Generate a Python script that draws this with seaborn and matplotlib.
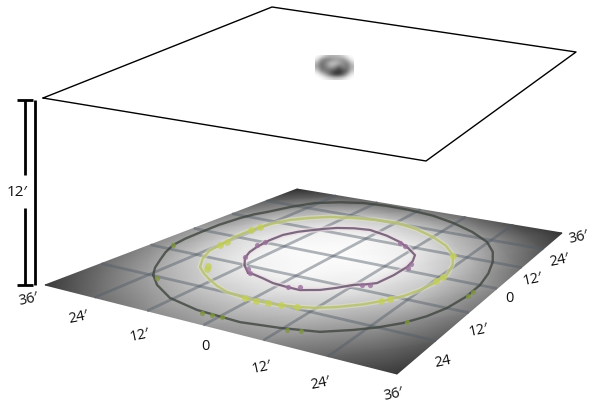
import numpy as np
import pandas as pd
import matplotlib
matplotlib.use("Agg")
import matplotlib.pyplot as plt
import seaborn as sns

# Floor plan in feet
FEET = [-36, -24, -12, 0, 12, 24, 36]
GRID_FEET = [-24, -12, 0, 12, 24]
# Illuminance of the floor on the 12-foot lattice (row = y from -36 to 36, col = x from -36 to 36)
FLOOR_LEVEL = [
    [0.22, 0.42, 0.55, 0.60, 0.56, 0.40, 0.22],
    [0.42, 0.64, 0.78, 0.82, 0.76, 0.60, 0.36],
    [0.54, 0.80, 0.94, 0.97, 0.92, 0.76, 0.48],
    [0.60, 0.85, 0.98, 0.99, 0.97, 0.80, 0.52],
    [0.52, 0.80, 0.94, 0.97, 0.92, 0.74, 0.44],
    [0.38, 0.62, 0.78, 0.80, 0.74, 0.58, 0.34],
    [0.18, 0.34, 0.44, 0.48, 0.42, 0.30, 0.20],
]
OUTER_X = [-23.2, -25.7, -27.9, -30.2, -32.0, -32.7, -32.9, -33.0, -32.3, -31.4, -30.0, -27.8, -24.8, -20.0, -14.8, -8.7, -2.6, 4.8, 11.5, 18.0, 23.7, 27.3, 29.7, 31.5, 32.5, 32.6, 31.8, 30.3, 28.1, 25.3, 22.3, 18.0, 11.5, 4.4, -5.1, -12.7, -19.0, -23.2]
OUTER_Y = [-23.8, -20.9, -17.5, -13.8, -10.0, -6.0, -1.7, 4.5, 10.4, 14.0, 16.9, 22.8, 28.1, 31.6, 33.8, 34.6, 34.4, 33.2, 30.6, 27.0, 22.5, 17.5, 12.1, 6.0, 0.1, -6.0, -12.0, -16.6, -20.7, -24.0, -26.6, -29.6, -31.3, -32.5, -32.0, -30.3, -27.0, -23.8]
MID_X = [-18.6, -21.5, -23.3, -23.8, -24.7, -24.5, -23.4, -21.8, -18.8, -15.3, -10.3, -5.0, 0.3, 6.3, 12.0, 17.0, 20.9, 23.3, 24.8, 24.6, 23.8, 22.6, 20.9, 18.2, 14.9, 12.0, 9.3, 5.3, 1.3, -2.3, -5.9, -9.3, -12.4, -15.6, -18.6]
MID_Y = [-16.8, -12.9, -9.2, -5.5, 0.5, 6.6, 11.0, 14.6, 18.0, 20.8, 22.7, 24.0, 24.4, 22.7, 19.8, 16.2, 11.9, 7.0, 1.6, -3.0, -7.2, -10.8, -13.8, -17.3, -20.3, -22.2, -23.2, -24.2, -24.5, -24.3, -23.8, -22.5, -20.9, -19.0, -16.8]
INNER_X = [-8.7, -11.9, -14.5, -15.9, -16.6, -17.0, -16.7, -15.2, -13.1, -11.4, -9.4, -6.0, -2.3, 2.8, 7.4, 11.0, 14.1, 15.4, 16.0, 15.9, 15.2, 13.7, 11.8, 9.9, 7.9, 4.8, 1.6, -1.5, -4.6, -7.6, -8.7]
INNER_Y = [-15.0, -12.2, -9.0, -6.0, -2.9, 1.4, 5.6, 8.8, 11.3, 13.2, 15.0, 16.6, 17.3, 15.8, 13.6, 11.0, 8.2, 5.0, 1.7, -3.2, -8.0, -9.5, -10.8, -13.4, -15.5, -17.2, -17.1, -16.8, -15.8, -15.0, -15.0]
GREEN_MID_X = [-23.8, -23.9, -16.7, -17.6, -24.3, -24.6, 8.9, 6.0, 3.5, 1.0, -1.5, 21.1, 24.6, 24.4, 21.1, 20.2]
GREEN_MID_Y = [-5.5, -3.5, -17.0, -15.8, 7.5, 5.0, -23.4, -24.0, -24.3, -24.5, -24.4, 11.4, 0.4, -2.0, -13.2, -14.6]
GREEN_OUTER_X = [-3.5, -1.5, 0.5, 12.9, 15.0, 28.5, 32.8, 32.7, -21.5, -32.0]
GREEN_OUTER_Y = [-32.6, -32.5, -32.4, -31.4, -30.6, -20.0, -3.5, -5.5, -24.6, -10.0]
PINK_X = [-17.3, -17.0, -8.4, -10.0, 3.9, 2.0, 7.8, 9.6, 16.4, 15.8, 14.6, 13.2, -14.7]
PINK_Y = [-2.0, 0.0, -14.8, -13.4, -16.0, -17.0, 13.1, 12.0, 1.3, 3.6, -9.4, -10.0, -8.8]
# Light source seen on the ceiling plane
SOURCE_LEVEL = [
    [1.00, 0.95, 0.80, 0.72, 0.72, 0.75, 0.85, 0.97, 1.00],
    [0.92, 0.55, 0.45, 0.50, 0.60, 0.60, 0.55, 0.75, 0.97],
    [0.70, 0.40, 0.55, 0.75, 0.80, 0.70, 0.55, 0.45, 0.80],
    [0.65, 0.40, 0.50, 0.65, 0.60, 0.35, 0.55, 0.45, 0.70],
    [0.85, 0.50, 0.45, 0.40, 0.30, 0.20, 0.30, 0.40, 0.80],
    [1.00, 0.85, 0.65, 0.40, 0.20, 0.20, 0.35, 0.70, 0.95],
    [1.00, 1.00, 0.95, 0.90, 0.85, 0.85, 0.90, 0.98, 1.00],
]
LOWER_TICKS = ["36\u2032", "24\u2032", "12\u2032", "0", "12\u2032", "24\u2032", "36\u2032"]
RIGHT_TICKS = ["24", "12\u2032", "0", "12\u2032", "24\u2032", "36\u2032"]
HEIGHT_LABEL = "12\u2032"

sns.set_theme(style="white")
plt.rcParams["font.family"] = ["Open Sans", "DejaVu Sans"]

W, H = 589, 404
fig = plt.figure(figsize=(W / 100, H / 100), dpi=100)
ax = fig.add_axes([0, 0, 1, 1])
ax.set_xlim(0, W)
ax.set_ylim(H, 0)
ax.axis("off")


def homography(dst):
    src = [(-36, -36), (36, -36), (36, 36), (-36, 36)]
    A, b = [], []
    for (x, y), (u, v) in zip(src, dst):
        A.append([x, y, 1, 0, 0, 0, -u * x, -u * y]); b.append(u)
        A.append([0, 0, 0, x, y, 1, -v * x, -v * y]); b.append(v)
    return np.append(np.linalg.solve(np.array(A, float), np.array(b, float)), 1).reshape(3, 3)


FLOOR_H = homography([(45, 285), (397, 374), (562, 233), (297, 189)])
CEIL_H = homography([(43, 98), (426, 161), (576, 52), (272, 7)])


def project(M, x, y):
    x, y = np.asarray(x, float), np.asarray(y, float)
    d = M[2, 0] * x + M[2, 1] * y + M[2, 2]
    return (M[0, 0] * x + M[0, 1] * y + M[0, 2]) / d, (M[1, 0] * x + M[1, 1] * y + M[1, 2]) / d


def path(M, x, y, **kw):
    u, v = project(M, x, y)
    df = pd.DataFrame({"u": u, "v": v})
    sns.lineplot(data=df, x="u", y="v", sort=False, estimator=None, ax=ax, legend=False, **kw)
    ax.set_xlabel(""); ax.set_ylabel("")


# Floor
gx, gy = np.meshgrid(FEET, FEET)
u, v = project(FLOOR_H, gx, gy)
ax.pcolormesh(u, v, np.array(FLOOR_LEVEL), cmap="gray", vmin=0, vmax=1, shading="gouraud", zorder=1)

# 12-foot lattice
for g in GRID_FEET:
    for (a, b) in (([g, g], [-36, 36]), ([-36, 36], [g, g])):
        path(FLOOR_H, a, b, color="#525c68", linewidth=2.0, alpha=0.45, zorder=2, solid_capstyle="butt")

# Iso-illuminance rings, each with a pale halo
path(FLOOR_H, OUTER_X, OUTER_Y, color="#3f453e", linewidth=1.7, alpha=0.8, zorder=3, solid_joinstyle="round")
path(FLOOR_H, MID_X, MID_Y, color="#e6ebb4", linewidth=3.6, alpha=0.45, zorder=3, solid_joinstyle="round")
path(FLOOR_H, MID_X, MID_Y, color="#b8c077", linewidth=1.7, alpha=0.85, zorder=3, solid_joinstyle="round")
path(FLOOR_H, INNER_X, INNER_Y, color="#f1dbe6", linewidth=3.8, alpha=0.6, zorder=3, solid_joinstyle="round")
path(FLOOR_H, INNER_X, INNER_Y, color="#66566c", linewidth=1.6, alpha=0.85, zorder=4, solid_joinstyle="round")

for xs, ys, col, size, al in ((GREEN_MID_X, GREEN_MID_Y, "#c3cf55", 24, 0.75),
                              (GREEN_OUTER_X, GREEN_OUTER_Y, "#7f963f", 14, 0.8),
                              (PINK_X, PINK_Y, "#9a6f9c", 14, 0.8)):
    pu, pv = project(FLOOR_H, xs, ys)
    sns.scatterplot(x=pu, y=pv, color=col, s=size, marker="o", linewidth=0, alpha=al,
                    ax=ax, legend=False, zorder=5)
ax.set_xlabel(""); ax.set_ylabel("")

# Ceiling outline
cx = [-36, 36, 36, -36, -36]
cy = [-36, -36, 36, 36, -36]
path(CEIL_H, cx, cy, color="black", linewidth=1.0, zorder=6)

# Source on the ceiling
blob = fig.add_axes([315 / W, 1 - 80 / H, 39 / W, 25 / H])
blob.imshow(np.array(SOURCE_LEVEL), cmap="gray", vmin=0, vmax=1, interpolation="bicubic", aspect="auto")
blob.axis("off")

# Height bar
ax.plot([24.5, 24.5], [100, 175], color="black", lw=2.0, solid_capstyle="butt", zorder=7)
ax.plot([24.5, 24.5], [208, 285], color="black", lw=2.0, solid_capstyle="butt", zorder=7)
ax.plot([35, 35], [100, 285], color="black", lw=2.0, solid_capstyle="butt", zorder=7)
for yy in (100, 285):
    ax.plot([17, 33], [yy, yy], color="black", lw=2.0, solid_capstyle="butt", zorder=7)
ax.text(17, 193, HEIGHT_LABEL, fontsize=11, ha="center", va="center", color="#111111")

# Tick labels
low_pos = [(28, 299), (78, 317), (140, 335), (205, 347), (262, 367), (320, 383), (393, 394)]
right_pos = [(443, 362), (479, 330), (509, 299), (533, 279), (559, 260), (578, 237)]
for lab, (a, b) in zip(LOWER_TICKS, low_pos):
    ax.text(a, b, lab, fontsize=10.5, ha="center", va="center", rotation=0 if lab == "0" else 12, color="#111111")
for lab, (a, b) in zip(RIGHT_TICKS, right_pos):
    ax.text(a, b, lab, fontsize=10.5, ha="center", va="center", rotation=0 if lab == "0" else 12, color="#111111")

fig.savefig("out.png", dpi=100)
